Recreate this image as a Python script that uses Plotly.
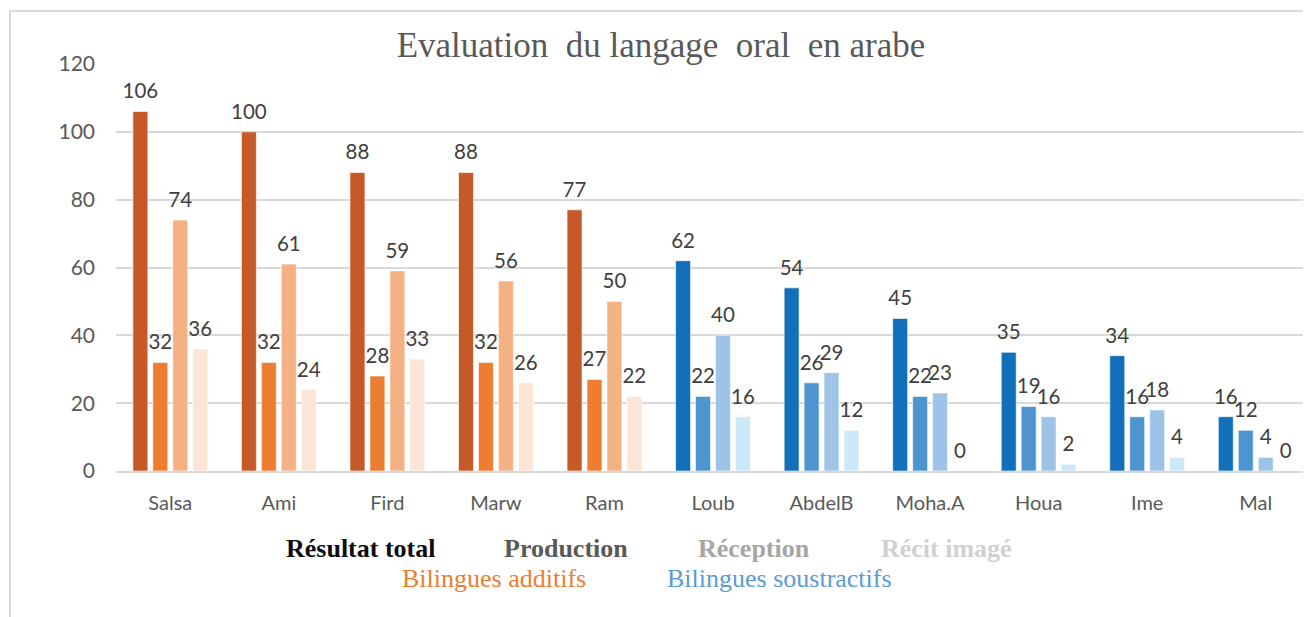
import plotly.graph_objects as go

categories = ["Salsa", "Ami", "Fird", "Marw", "Ram", "Loub", "AbdelB", "Moha.A", "Houa", "Ime", "Mal"]
resultat_total = [106, 100, 88, 88, 77, 62, 54, 45, 35, 34, 16]
production = [32, 32, 28, 32, 27, 22, 26, 22, 19, 16, 12]
reception = [74, 61, 59, 56, 50, 40, 29, 23, 16, 18, 4]
recit_image = [36, 24, 33, 26, 22, 16, 12, 0, 2, 4, 0]
group = ["add"] * 5 + ["sous"] * 6
y_ticks = [0, 20, 40, 60, 80, 100, 120]

palette = {
    "add": ["#C55A28", "#ED7D31", "#F4B183", "#FBE5D6"],
    "sous": ["#1170B9", "#4E95D0", "#9DC3E6", "#CDE8F8"],
}

series = [resultat_total, production, reception, recit_image]
names = ["Résultat total", "Production", "Réception", "Récit imagé"]

# figure geometry (page body has an 8px offset)
W, H = 1303, 609
L, R, T, B = 108, 1, 56, 146
PW, PH = W - L - R, H - T - B

def px(x):
    return (x - 8 - L) / PW

def py(y):
    return (H - B - (y - 8)) / PH

fig = go.Figure()
for i, (vals, nm) in enumerate(zip(series, names)):
    fig.add_trace(go.Bar(
        x=categories, y=vals, name=nm,
        marker=dict(color=[palette[g][i] for g in group],
                    line=dict(color="rgba(255,255,255,0.6)", width=1)),
        text=vals,
        texttemplate="<span style='font-size:20.5px'>%{y}</span><br> ",
        textposition="outside",
        constraintext="none",
        cliponaxis=False,
        textfont=dict(family="Lato, Open Sans, sans-serif", size=7, color="#404040"),
        showlegend=False,
    ))

fig.update_layout(
    width=W, height=H,
    margin=dict(l=L, r=R, t=T, b=B),
    paper_bgcolor="white", plot_bgcolor="white",
    barmode="group", bargap=0.265, bargroupgap=0.25,
    title=dict(text="Evaluation  du langage  oral  en arabe", x=px(661), xanchor="center",
               xref="paper", y=1 - (45 - 8) / H, yanchor="middle",
               font=dict(family="Liberation Serif, Times New Roman, serif", size=35, color="#595959")),
    yaxis=dict(range=[0, 120], tickvals=y_ticks, showgrid=True, gridcolor="#D9D9D9", gridwidth=1.5,
               zeroline=False, showline=False, ticks="", ticklabelstandoff=20,
               tickfont=dict(family="Lato, Open Sans, sans-serif", size=21, color="#595959")),
    xaxis=dict(showline=True, linecolor="#D9D9D9", linewidth=1.5, ticks="",
               ticklabelstandoff=13,
               tickfont=dict(family="Lato, Open Sans, sans-serif", size=20, color="#595959")),
)

legend_items = [
    ("Résultat total", "#0D0D0D", 360, 548, True),
    ("Production", "#595959", 566, 548, True),
    ("Réception", "#A6A6A6", 754, 548, True),
    ("Récit imagé", "#D0D0D0", 946, 548, True),
    ("Bilingues additifs", "#ED7D31", 494, 578, False),
    ("Bilingues soustractifs", "#5B9BD5", 779, 578, False),
]
for txt, col, lx, ly, bold in legend_items:
    fig.add_annotation(
        text=f"<b>{txt}</b>" if bold else txt,
        xref="paper", yref="paper",
        x=px(lx), y=py(ly),
        xanchor="center", yanchor="middle", showarrow=False,
        font=dict(family="Liberation Serif, Times New Roman, serif", size=26, color=col),
    )

fig.add_shape(type="rect", xref="paper", yref="paper",
              x0=px(10), x1=px(1310),
              y0=py(660), y1=py(11),
              line=dict(color="#D9D9D9", width=2), layer="below")

fig.write_html("out.html")
